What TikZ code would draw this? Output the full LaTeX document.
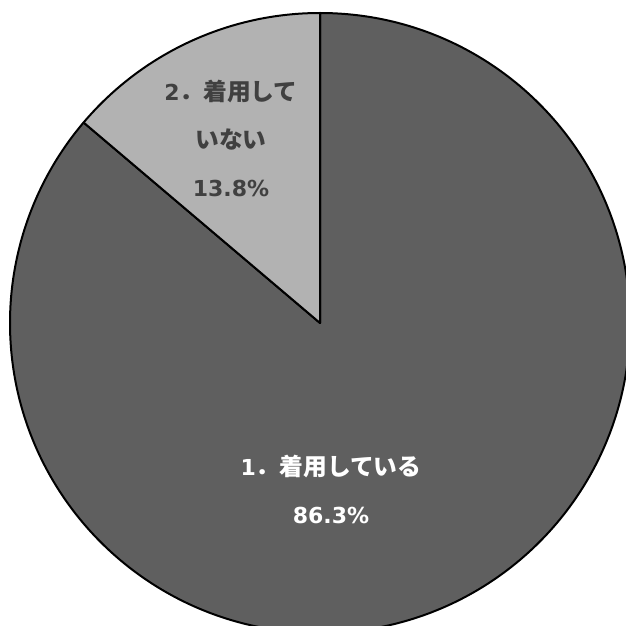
\documentclass[tikz,border=0pt]{standalone}
\usepackage{fontspec}
\setmainfont{DejaVu Sans}
\newfontfamily\jp[Scale=1.08]{Noto Sans CJK JP}
\usepackage{xcolor}
\definecolor{wornslice}{HTML}{5F5F5F}
\definecolor{notwornslice}{HTML}{B2B2B2}
\definecolor{darklabel}{HTML}{404040}

\begin{document}
\begin{tikzpicture}[x=0.75pt,y=0.75pt,
    slice/.style={draw=black,line width=1.5pt,line join=round},
    pielabel/.style={align=center,font=\fontsize{16.5}{36}\selectfont\bfseries}]
        \useasboundingbox (0,0) rectangle (626,626);
        \clip (0,0) rectangle (626,626);
        \fill[white] (0,0) rectangle (626,626);

        % Centre of the pie
        \coordinate (c) at (320,303);

        % 1. wearing (86.3%)
        \draw[slice,fill=wornslice] (c) -- ++(90:310) arc (90:-220.3:310) -- cycle;
        % 2. not wearing (13.8%)
        \draw[slice,fill=notwornslice] (c) -- ++(90:310) arc (90:139.7:310) -- cycle;

        % Labels
        \node[pielabel,text=darklabel] (notworn) at (231,488)
            {2{\jp ．着用して}\\{\jp いない}\\13.8\%};
        \node[pielabel,text=white] (worn) at (331,137)
            {1{\jp ．着用している}\\86.3\%};
    \end{tikzpicture}
\end{document}
